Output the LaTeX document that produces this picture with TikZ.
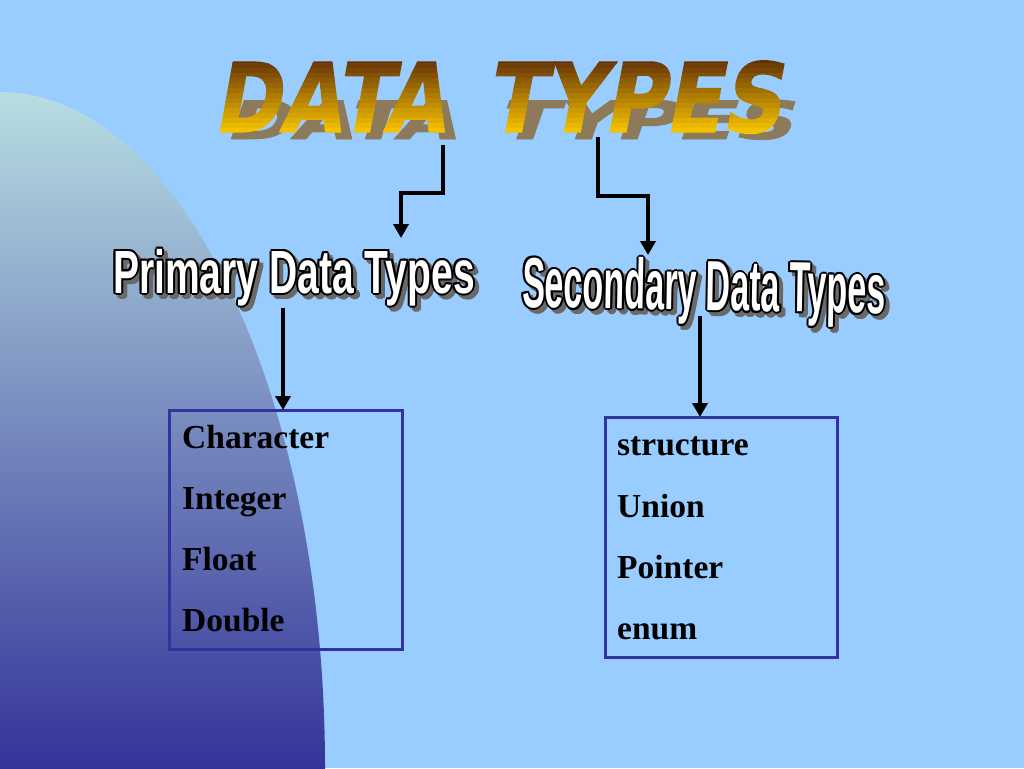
\documentclass[tikz,border=0pt]{standalone}
\usepackage{fontspec}
\setmainfont{Liberation Serif}
\newfontfamily\titlefont[FakeSlant=0.22,FakeBold=1.5]{DejaVu Sans}
\newfontfamily\artfont{Liberation Sans}
\usetikzlibrary{arrows.meta}
\definecolor{bg}{RGB}{153,204,255}
\definecolor{shtop}{RGB}{184,222,226}
\definecolor{shbot}{RGB}{51,51,153}
\definecolor{boxc}{RGB}{51,51,160}
\definecolor{tbrown}{RGB}{100,50,5}
\definecolor{tgold}{RGB}{255,204,0}
\definecolor{tshadow}{RGB}{140,122,90}
\definecolor{wshadow}{RGB}{105,105,105}
\newcommand\artword[7]{%
  \foreach \dx/\dy [count=\k] in {2/0,-2/0,0/2,0/-2,1.4/1.4,-1.4/1.4,1.4/-1.4,-1.4/-1.4}{%
    \node[art,text=wshadow,rotate=#6,xshift=4pt+\dx pt,yshift=-4pt+\dy pt] (#1s\k) at (#2,#3)
      {\artfont\bfseries\fontsize{#5}{#5}\selectfont\scalebox{#4}[1]{#7}};
  }%
  \foreach \dx/\dy [count=\k] in {2/0,-2/0,0/2,0/-2,1.4/1.4,-1.4/1.4,1.4/-1.4,-1.4/-1.4}{%
    \node[art,text=black,rotate=#6,xshift=\dx pt,yshift=\dy pt] (#1o\k) at (#2,#3)
      {\artfont\bfseries\fontsize{#5}{#5}\selectfont\scalebox{#4}[1]{#7}};
  }%
  \node[art,text=white,rotate=#6] (#1) at (#2,#3)
    {\artfont\bfseries\fontsize{#5}{#5}\selectfont\scalebox{#4}[1]{#7}};
}
\begin{document}
\begin{tikzpicture}[x=1pt,y=-1pt,
  conn/.style={line width=3.6pt,-{Triangle[width=15pt,length=14pt]}},
  listbox/.style={draw=boxc,line width=3pt,inner sep=0pt,outer sep=0pt},
  item/.style={anchor=base west,inner sep=0pt,font=\bfseries\fontsize{33.5}{40}\selectfont},
  ttl/.style={anchor=base west,inner sep=0pt,font=\titlefont\bfseries\fontsize{96}{110}\selectfont},
  art/.style={anchor=base west,inner sep=0pt},
]
\useasboundingbox (0,0) rectangle (1024,768);
\fill[bg] (0,0) rectangle (1024,768);
% left shaded shape
\begin{scope}
  \clip (0,768) ellipse [x radius=325, y radius=676];
  \shade[top color=shtop,bottom color=shbot] (0,90) rectangle (330,770);
\end{scope}
% title shadow
\node[ttl,text=tshadow] (shA) at (224,139) {\scalebox{0.83}[0.55]{DATA}};
\node[ttl,text=tshadow] (shB) at (496,139) {\scalebox{0.87}[0.55]{TYPES}};
% title with gradient bands
\foreach \i in {0,...,15}{%
  \pgfmathsetmacro\ya{58+\i*5}
  \pgfmathsetmacro\yb{\ya+5.3}
  \pgfmathtruncatemacro\p{round(100*\i/15)}
  \begin{scope}
    \clip (0,\ya) rectangle (1024,\yb);
    \node[ttl,text=tgold!\p!tbrown] (tA\i) at (213,132) {\scalebox{0.83}[1]{DATA}};
    \node[ttl,text=tgold!\p!tbrown] (tB\i) at (485,132) {\scalebox{0.87}[1]{TYPES}};
  \end{scope}
}
% subtitles
\artword{prim}{113}{293}{0.64}{61}{0}{Primary Data Types}
\artword{sec}{522}{307}{0.48}{71}{-1}{Secondary Data Types}
% boxes
\node[listbox,minimum width=233pt,minimum height=239pt] (box1) at (285.5,529.5) {};
\node[listbox,minimum width=232pt,minimum height=240pt] (box2) at (721,537) {};
\node[item] (c1) at (182,448) {Character};
\node[item] (c2) at (182,509) {Integer};
\node[item] (c3) at (182,570) {Float};
\node[item] (c4) at (182,631) {Double};
\node[item] (d1) at (617,455) {structure};
\node[item] (d2) at (617,517) {Union};
\node[item] (d3) at (617,578) {Pointer};
\node[item] (d4) at (617,639) {enum};
% connectors
\coordinate (s1) at (443,145);
\coordinate (e1) at (401,238);
\coordinate (s2) at (598,137);
\coordinate (e2) at (648,255);
\coordinate (s3) at (283,308);
\coordinate (s4) at (700,316);
\draw[conn] (s1) -- ++(0,48) -| (e1);
\draw[conn] (s2) -- ++(0,59) -| (e2);
\draw[conn] (s3) -- (s3 |- box1.north);
\draw[conn] (s4) -- (s4 |- box2.north);
\end{tikzpicture}
\end{document}
